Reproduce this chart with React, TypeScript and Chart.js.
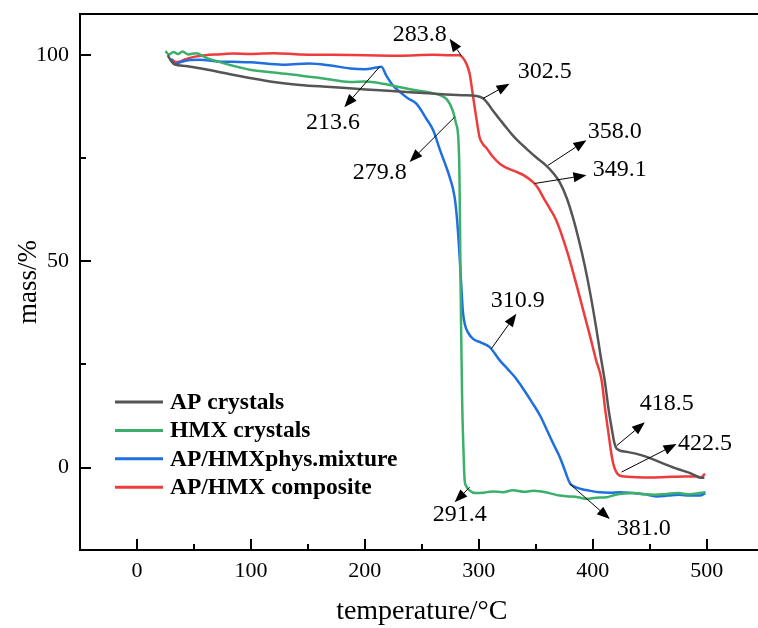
import React, { useEffect, useRef } from "react";
import { Chart, registerables } from "chart.js";

Chart.register(...registerables);

// ---------- data ----------
const seriesLabels = ["AP crystals", "HMX crystals", "AP/HMXphys.mixture", "AP/HMX composite"];
const seriesColors = ["#555555", "#3cb06a", "#1e6fe0", "#ee3b3b"];

const apX = [27, 30, 33, 43, 60, 80, 99, 120, 143, 170, 201, 230, 259, 285, 298, 304, 308, 312, 318, 324, 330, 336, 342, 350, 359, 366, 371, 377, 382.5, 388, 393, 398, 403, 407, 410.6, 414, 417, 419, 421, 430, 444, 460, 474, 485, 494, 498];
const apY = [100, 98.6, 97.8, 97.4, 96.6, 95.5, 94.5, 93.5, 92.8, 92.3, 91.7, 91.2, 90.7, 90.3, 90.1, 89.5, 88.3, 86.7, 84.6, 82.5, 80.5, 78.8, 77.3, 75.3, 73.3, 71.2, 69.2, 65.5, 60.8, 55, 49, 42, 34, 27, 21, 14, 9, 6, 4.6, 3.8, 2.9, 1.2, -0.3, -1.3, -2.4, -2.5];

const hmxX = [25, 28, 32, 36, 40, 45, 52, 60, 72, 85, 99, 120, 143, 165, 187, 200, 216, 230, 245, 258, 266, 272, 277, 280, 282, 283, 283.5, 284, 284.7, 285.5, 286.5, 287.6, 289, 292, 297, 304, 312, 321, 330, 340, 348, 355, 362, 371, 380, 387, 395, 403, 412, 420, 428, 436, 445, 455, 465, 475, 485, 494, 499];
const hmxY = [101, 100.2, 100.8, 100.3, 100.9, 100.2, 100.5, 99.5, 98.4, 97.4, 96.5, 95.8, 95.1, 94.3, 93.5, 93.6, 93.1, 92.3, 91.5, 90.9, 90.3, 89.3, 86.7, 83.5, 80, 72, 60, 45, 30, 15, 5, -3, -4.5, -5.6, -6.2, -6.1, -5.8, -6, -5.5, -5.9, -5.6, -5.8, -6.2, -6.8, -7.0, -7.2, -7.6, -7.3, -7.2, -6.6, -6.3, -6.2, -6.5, -6.6, -6.4, -6.2, -6.5, -6.2, -6];

const mixX = [30, 31.5, 33, 38, 45, 55, 70, 84, 100, 113, 130, 151, 170, 187, 200, 210, 214.4, 219, 224.6, 232, 238, 245, 254, 260, 266, 270, 274.4, 278.8, 281, 283, 284.5, 286, 288, 290.5, 295, 302, 309.6, 318.4, 326, 333, 340, 347, 354, 360, 365, 370, 374, 377, 380, 383, 390, 397, 406, 415, 424, 435, 446, 456, 466, 476, 485, 494, 499];
const mixY = [99.2, 98.2, 97.8, 98.3, 98.8, 98.9, 98.5, 98.4, 98.3, 98, 97.7, 98, 97.5, 96.8, 96.6, 97, 97.2, 95, 92.7, 90.8, 89.5, 88.3, 84.6, 81.8, 77, 74, 70.5, 65.6, 60, 52, 45, 38, 34.5, 32.8, 31.2, 30.3, 29.2, 26, 23.7, 21.5, 18.7, 15.7, 12.5, 9, 6, 3.2, 0.5, -1.8, -3.8, -4.5, -5.2, -5.6, -6, -6.1, -6, -6.2, -6.5, -7, -6.8, -6.6, -6.8, -6.8, -6.2];

const compX = [31, 34, 37, 42, 50, 60, 70, 84, 100, 120, 143, 170, 201, 230, 260, 275, 283, 286, 289, 292, 295, 298, 300.8, 304, 306.7, 312, 318.4, 325, 333, 340, 347.6, 352, 356.4, 362, 368, 378, 388, 398, 403, 407.7, 411, 414, 416, 418, 420, 424, 435, 450, 465, 480, 490, 495, 498.5];
const compY = [98.9, 98.3, 98.4, 99, 99.6, 100, 100.2, 100.4, 100.3, 100.5, 100.2, 100.1, 100, 99.9, 100.1, 100, 100, 99.4, 98, 95.5, 90, 84.5, 80, 78.3, 77.5, 75.5, 73.7, 72.6, 71.7, 70.8, 69.2, 67.8, 65.6, 63, 60, 52, 42, 31.5, 26, 21.4, 14, 8, 4, 1, -0.7, -2, -2.3, -2.4, -2.3, -2.2, -2.2, -2.4, -1.5];

const seriesX = [apX, hmxX, mixX, compX];
const seriesY = [apY, hmxY, mixY, compY];

const xTicks = [0, 100, 200, 300, 400, 500];
const xMinorTicks = [50, 150, 250, 350, 450];
const yTicks = [0, 50, 100];
const yMinorTicks = [25, 75];

// annotations: label, curve point (tail), arrow head, label anchor, label alignment
const annLabels = ["283.8", "302.5", "213.6", "279.8", "358.0", "349.1", "310.9", "418.5", "422.5", "291.4", "381.0"];
const annTailX = [284.7, 303.7, 213, 278.8, 360.8, 349.1, 311, 421, 425.3, 292, 380];
const annTailY = [99.9, 89.5, 97.2, 85, 73.3, 68.9, 28.8, 5.3, -1.1, -4.8, -4];
const annHeadX = [274.4, 327, 182, 239.3, 394.5, 394.5, 333, 445.8, 473.6, 278.8, 415];
const annHeadY = [104, 93.1, 87.4, 74.1, 79.4, 70.9, 37.3, 11, 5.7, -8.4, -12.5];
const annTextX = [271.8, 334.2, 172, 213, 395.7, 400, 334.2, 441.4, 474.8, 283.2, 421];
const annTextY = [104.9, 95.9, 83.7, 71.4, 81.4, 72.3, 40.5, 15.5, 5.8, -11.4, -14.8];
const annAlign = ["right", "left", "center", "center", "left", "left", "center", "left", "left", "center", "left"];

const SERIF = '"Liberation Serif", "Times New Roman", serif';

export default function App() {
  const ref = useRef<HTMLCanvasElement | null>(null);

  useEffect(() => {
    const canvas = ref.current;
    if (!canvas) return;

    const framePlugin = {
      id: "frameTicks",
      afterDraw(chart: any) {
        const { ctx, chartArea } = chart;
        const xs = chart.scales.x;
        const ys = chart.scales.y;
        ctx.save();
        ctx.strokeStyle = "#000";
        ctx.lineWidth = 2;
        ctx.strokeRect(chartArea.left, chartArea.top, chartArea.right - chartArea.left, chartArea.bottom - chartArea.top);
        ctx.beginPath();
        xTicks.forEach((v) => {
          const px = Math.round(xs.getPixelForValue(v));
          ctx.moveTo(px, chartArea.bottom);
          ctx.lineTo(px, chartArea.bottom - 11);
        });
        xMinorTicks.forEach((v) => {
          const px = Math.round(xs.getPixelForValue(v));
          ctx.moveTo(px, chartArea.bottom);
          ctx.lineTo(px, chartArea.bottom - 6);
        });
        yTicks.forEach((v) => {
          const py = Math.round(ys.getPixelForValue(v));
          ctx.moveTo(chartArea.left, py);
          ctx.lineTo(chartArea.left + 11, py);
        });
        yMinorTicks.forEach((v) => {
          const py = Math.round(ys.getPixelForValue(v));
          ctx.moveTo(chartArea.left, py);
          ctx.lineTo(chartArea.left + 6, py);
        });
        ctx.stroke();

        // annotations
        ctx.fillStyle = "#000";
        ctx.strokeStyle = "#000";
        ctx.lineWidth = 1;
        annLabels.forEach((lab, i) => {
          const x1 = xs.getPixelForValue(annTailX[i]);
          const y1 = ys.getPixelForValue(annTailY[i]);
          const x2 = xs.getPixelForValue(annHeadX[i]);
          const y2 = ys.getPixelForValue(annHeadY[i]);
          const ang = Math.atan2(y2 - y1, x2 - x1);
          const hl = 13, hw = 5;
          const bx = x2 - hl * Math.cos(ang);
          const by = y2 - hl * Math.sin(ang);
          ctx.beginPath();
          ctx.moveTo(x1, y1);
          ctx.lineTo(bx, by);
          ctx.stroke();
          ctx.beginPath();
          ctx.moveTo(x2, y2);
          ctx.lineTo(bx + hw * Math.sin(ang), by - hw * Math.cos(ang));
          ctx.lineTo(bx - hw * Math.sin(ang), by + hw * Math.cos(ang));
          ctx.closePath();
          ctx.fill();
          ctx.font = `24px ${SERIF}`;
          ctx.textAlign = annAlign[i] as CanvasTextAlign;
          ctx.textBaseline = "middle";
          ctx.fillText(lab, xs.getPixelForValue(annTextX[i]), ys.getPixelForValue(annTextY[i]));
        });

        // legend
        const lx = chartArea.left + 35;
        const ly = chartArea.top + 388;
        chart.data.datasets.forEach((ds: any, i: number) => {
          const y = ly + i * 28.4;
          ctx.strokeStyle = ds.borderColor;
          ctx.lineWidth = 3;
          ctx.beginPath();
          ctx.moveTo(lx, y);
          ctx.lineTo(lx + 48, y);
          ctx.stroke();
          ctx.fillStyle = "#000";
          ctx.font = `bold 23.5px ${SERIF}`;
          ctx.textAlign = "left";
          ctx.textBaseline = "middle";
          ctx.fillText(ds.label, lx + 55, y + 1);
        });
        ctx.restore();
      },
    };

    const chart = new Chart(canvas, {
      type: "line",
      data: {
        datasets: seriesLabels.map((label, i) => ({
          label,
          data: seriesX[i].map((x, j) => ({ x, y: seriesY[i][j] })),
          borderColor: seriesColors[i],
          backgroundColor: seriesColors[i],
          borderWidth: 2.5,
          pointRadius: 0,
          tension: 0.3,
          cubicInterpolationMode: "monotone" as const,
        })),
      },
      options: {
        responsive: false,
        animation: false,
        layout: { padding: { top: 14, left: 0, right: 26.4, bottom: 0 }, autoPadding: false },
        plugins: { legend: { display: false }, tooltip: { enabled: false } },
        scales: {
          x: {
            type: "linear",
            min: -50,
            max: 550,
            grid: { display: false, drawTicks: false },
            border: { display: false },
            ticks: { color: "#000", font: { family: SERIF, size: 22 }, padding: 8 },
            title: { display: true, text: "temperature/°C", color: "#000", font: { family: SERIF, size: 28 }, padding: 0 },
            afterBuildTicks: (s: any) => { s.ticks = xTicks.map((v) => ({ value: v })); },
            afterFit: (s: any) => { s.height = 78; s.paddingLeft = 0; s.paddingRight = 0; },
          },
          y: {
            type: "linear",
            min: -20,
            max: 110,
            grid: { display: false, drawTicks: false },
            border: { display: false },
            ticks: { color: "#000", font: { family: SERIF, size: 22 }, padding: 11 },
            title: { display: true, text: "mass/%", color: "#000", font: { family: SERIF, size: 27 }, padding: { top: 13, bottom: 0 } },
            afterBuildTicks: (s: any) => { s.ticks = yTicks.map((v) => ({ value: v })); },
            afterFit: (s: any) => { s.width = 80; s.paddingTop = 0; s.paddingBottom = 0; },
          },
        },
      },
      plugins: [framePlugin],
    } as any);

    return () => chart.destroy();
  }, []);

  return (
    <div style={{ position: "fixed", left: 0, top: 0, width: 758, height: 628, overflow: "hidden", background: "#fff" }}>
      <canvas ref={ref} width={790} height={628} style={{ display: "block" }} />
    </div>
  );
}
